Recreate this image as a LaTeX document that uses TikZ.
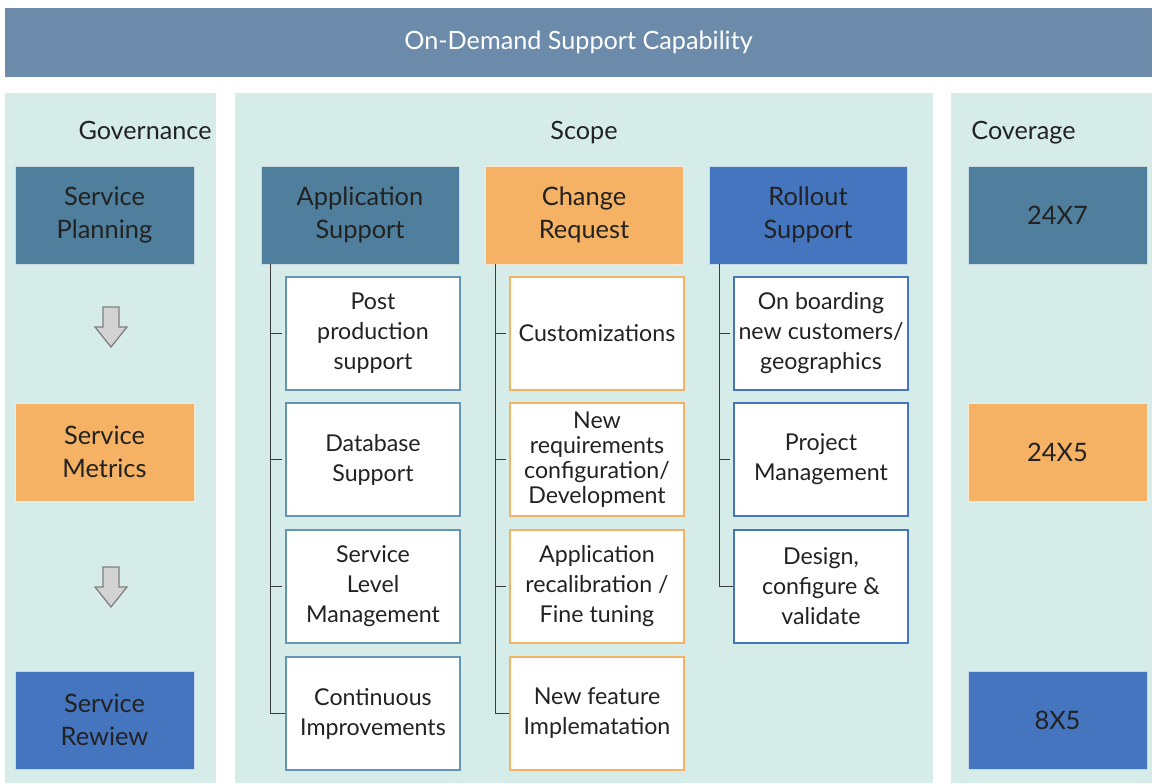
\documentclass[tikz,border=0pt]{standalone}
\usepackage{fontspec}
\setmainfont{Lato}
\usetikzlibrary{calc}
\definecolor{titlec}{HTML}{6C8BAA}
\definecolor{panelc}{HTML}{D5ECE9}
\definecolor{steelc}{HTML}{4F7F9C}
\definecolor{orangec}{HTML}{F5B264}
\definecolor{bluec}{HTML}{4475BE}
\definecolor{subbluec}{HTML}{6494B6}
\definecolor{txt}{HTML}{222222}
\definecolor{arrowfill}{HTML}{D3D3D3}
\definecolor{arrowdraw}{HTML}{7F7F7F}
\definecolor{treec}{HTML}{3A3A3A}
\tikzset{
  panel/.style={fill=panelc, draw=none, inner sep=0pt, anchor=north west},
  bigbox/.style={draw=white!70!#1, line width=0.4pt, fill=#1, text=txt, align=center,
     font=\fontsize{12.7}{16.5}\selectfont, inner sep=0pt},
  sidebox/.style={bigbox=#1, minimum width=89.5pt, minimum height=49pt},
  headbox/.style={bigbox=#1, minimum width=99pt, minimum height=49pt},
  subbox/.style={draw=#1, line width=0.75pt, fill=white, text=txt, align=center,
     font=\fontsize{11.6}{15}\selectfont, minimum width=87pt, minimum height=56.5pt, inner sep=0pt},
  lbl/.style={text=txt, font=\fontsize{12.6}{14}\selectfont, inner sep=0pt},
  tree/.style={draw=treec, line width=0.75pt},
  blockarrow/.style={fill=arrowfill, draw=arrowdraw, line width=0.6pt, line join=miter},
}
\begin{document}
\begin{tikzpicture}[x=0.5pt, y=-0.5pt]
\useasboundingbox (0,0) rectangle (1153,783);
\fill[white] (0,0) rectangle (1153,783);
% title bar
\node[fill=titlec, minimum width=573.5pt, minimum height=34.5pt, inner sep=0pt, text=white,
  font=\fontsize{12.6}{14}\selectfont] (title) at (578.5,42.5) {On-Demand Support Capability};
% panels
\node[panel, minimum width=105.5pt, minimum height=345pt] (govP) at (5,93) {};
\node[panel, minimum width=349pt, minimum height=345pt] (scopeP) at (235,93) {};
\node[panel, minimum width=100.5pt, minimum height=345pt] (covP) at (951,93) {};
% panel labels
\node[lbl, anchor=base east] (govL) at (212,139) {Governance};
\node[lbl, anchor=base] (scopeL) at (584,139) {Scope};
\node[lbl, anchor=base west] (covL) at (971,139) {Coverage};
% governance boxes
\node[sidebox=steelc] (plan) at (104.5,215) {Service\\Planning};
\node[sidebox=orangec] (metr) at (104.5,452) {Service\\Metrics};
\node[sidebox=bluec] (rev) at (104.5,720) {Service\\Rewiew};
% block arrows
\draw[blockarrow] (103,307) -- (119,307) -- (119,327) -- (127,327) -- (111,347) -- (95,327) -- (103,327) -- cycle;
\draw[blockarrow] (103,567) -- (119,567) -- (119,587) -- (127,587) -- (111,607) -- (95,587) -- (103,587) -- cycle;
% coverage boxes
\node[sidebox=steelc] (c1) at (1057.5,215) {24X7};
\node[sidebox=orangec] (c2) at (1057.5,452) {24X5};
\node[sidebox=bluec] (c3) at (1057.5,720) {8X5};
% scope headers
\node[headbox=steelc] (app) at (360,215) {Application\\Support};
\node[headbox=orangec] (chg) at (584,215) {Change\\Request};
\node[headbox=bluec] (rol) at (808,215) {Rollout\\Support};
% application support items
\node[subbox=subbluec] (a1) at (373,333.5) {Post\\production\\support};
\node[subbox=subbluec] (a2) at (373,459.5) {Database\\Support};
\node[subbox=subbluec] (a3) at (373,586.5) {Service\\Level\\Management};
\node[subbox=subbluec] (a4) at (373,713.5) {Continuous\\Improvements};
% change request items
\node[subbox=orangec] (b1) at (597,333.5) {Customizations};
\node[subbox=orangec] (b2) at (597,459.5) {New\\[-2.5pt]requirements\\[-2.5pt]configuration/\\[-2.5pt]Development};
\node[subbox=orangec] (b3) at (597,586.5) {Application\\recalibration /\\Fine tuning};
\node[subbox=orangec] (b4) at (597,713.5) {New feature\\Implematation};
% rollout items
\node[subbox=bluec] (r1) at (821,333.5) {On boarding\\new customers/\\geographics};
\node[subbox=bluec] (r2) at (821,459.5) {Project\\Management};
\node[subbox=bluec] (r3) at (821,586.5) {Design,\\configure \&\\validate};
% tree connectors
\coordinate (tA) at ([xshift=5pt]app.south west);
\coordinate (tB) at ([xshift=5.5pt]chg.south west);
\coordinate (tC) at ([xshift=5.5pt]rol.south west);
\draw[tree] (tA) |- (a4.west);
\draw[tree] (a1.west -| tA) -- ([xshift=-1.5pt]a1.west);
\draw[tree] (a2.west -| tA) -- ([xshift=-1.5pt]a2.west);
\draw[tree] (a3.west -| tA) -- ([xshift=-1.5pt]a3.west);
\draw[tree] (tB) |- (b4.west);
\draw[tree] (b1.west -| tB) -- ([xshift=-1.5pt]b1.west);
\draw[tree] (b2.west -| tB) -- ([xshift=-1.5pt]b2.west);
\draw[tree] (b3.west -| tB) -- ([xshift=-1.5pt]b3.west);
\draw[tree] (tC) |- (r3.west);
\draw[tree] (r1.west -| tC) -- ([xshift=-1.5pt]r1.west);
\draw[tree] (r2.west -| tC) -- ([xshift=-1.5pt]r2.west);
\end{tikzpicture}
\end{document}
